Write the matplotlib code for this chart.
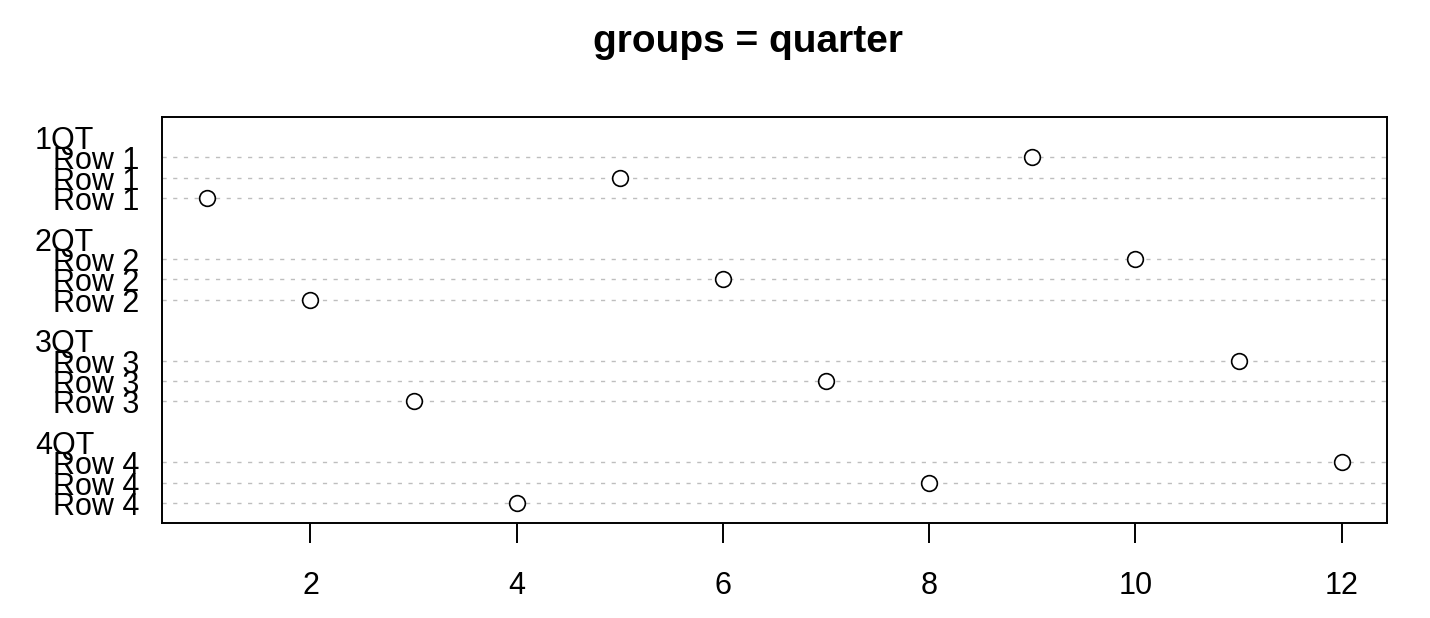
import matplotlib
matplotlib.use("Agg")
import matplotlib.pyplot as plt
import matplotlib.transforms as mtransforms

plt.rcParams['font.family'] = ['Liberation Sans', 'DejaVu Sans']

# data, each group listed top to bottom
groups = ['1QT', '2QT', '3QT', '4QT']
row_labels = ['Row 1', 'Row 2', 'Row 3', 'Row 4']
values = [[9, 5, 1], [10, 6, 2], [11, 7, 3], [12, 8, 4]]
xticks = [2, 4, 6, 8, 10, 12]

fig = plt.figure(figsize=(14.3, 6.18), dpi=100)
ax = fig.add_axes([162/1430, 1 - 523.3/618, (1387-162)/1430, (523.3-116.7)/618])

# y positions like R dotchart: rows then group label, gap of 2 between groups
ypos = {}
gpos = {}
y = 0
for gi in range(len(groups) - 1, -1, -1):
    vals = values[gi]
    for ri in range(len(vals) - 1, -1, -1):
        y += 1
        ypos[(gi, ri)] = y
    y += 1
    gpos[gi] = y
    y += 1

allx = [v for g in values for v in g]
xmin, xmax = min(allx), max(allx)
pad = (xmax - xmin) * 0.04
ax.set_xlim(xmin - pad, xmax + pad)
ax.set_ylim(0, y)

# labels sit in the left margin, shifted down a bit so caps centre on the line
trans = mtransforms.blended_transform_factory(fig.transFigure, ax.transData)
trans = trans + mtransforms.ScaledTranslation(0, -4/100, fig.dpi_scale_trans)
for gi, g in enumerate(groups):
    for ri, v in enumerate(values[gi]):
        yy = ypos[(gi, ri)]
        ax.axhline(yy, color='#BEBEBE', lw=1.0, ls=(0, (3, 4.7)), zorder=1)
        ax.plot(v, yy, 'o', mfc='white', mec='black', ms=11.3, mew=1.2, zorder=3)
        fig.text(52.7/1430, yy, row_labels[gi], transform=trans, ha='left',
                 va='center', fontsize=22)
    fig.text(35/1430, gpos[gi], g, transform=trans, ha='left', va='center', fontsize=22)

ax.set_yticks([])
ax.set_xticks(xticks)
ax.set_xticklabels([str(t) for t in xticks], fontsize=22)
ax.tick_params(axis='x', length=14.4, width=1.4, pad=20)
for s in ax.spines.values():
    s.set_linewidth(1.4)

fig.text(748/1430, 1 - 42/618, 'groups = quarter', ha='center', va='center',
         fontsize=28, fontweight='bold')

fig.savefig('out.png', dpi=100)
